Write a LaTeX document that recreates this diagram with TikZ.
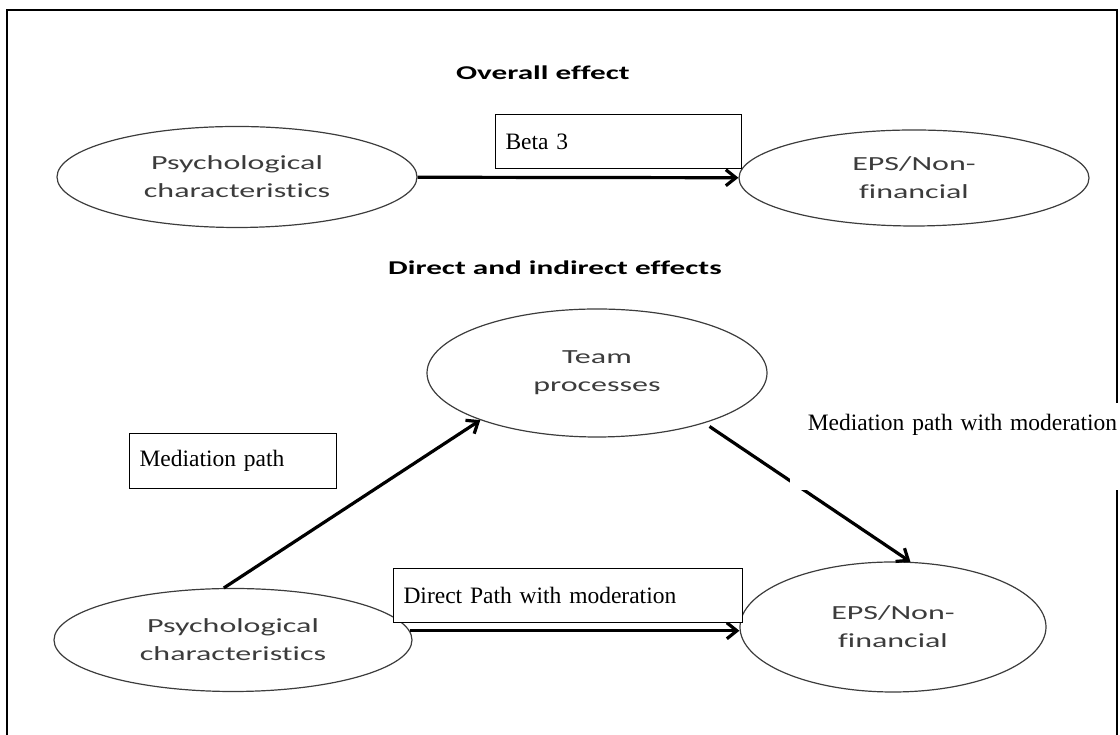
\documentclass[tikz,border=0pt]{standalone}
\usepackage{fontspec}
\setmainfont{Liberation Serif}
\newfontfamily\ellfont[FakeStretch=1.6, Ligatures=NoCommon]{Carlito}
\usepackage{tikz}
\usetikzlibrary{arrows.meta,positioning,shapes.geometric}
\definecolor{ellgray}{HTML}{3C3C3C}

\begin{document}
\begin{tikzpicture}[x=1pt, y=1pt,
  ell/.style={draw=ellgray, ellipse, line width=1.2pt, inner sep=0pt, align=center, text=ellgray, font=\ellfont\fontsize{20}{28}\selectfont},
  hdr/.style={font=\ellfont\bfseries\fontsize{19.5}{24}\selectfont},
  box/.style={draw, fill=white, line width=1pt, anchor=north west, align=left, inner xsep=10pt, font=\fontsize{23.5}{28}\selectfont},
  arr/.style={-{Straight Barb[length=10pt,width=16pt]}, line width=3.2pt}
]
\useasboundingbox (0,0) rectangle (1120,735);
\draw[line width=1.6pt] (7,0) -- (7,725) -- (1117,725) -- (1117,0);

% overall effect
\node[hdr] (ovr) at (543,662) {Overall effect};
\node[ell, minimum width=360pt, minimum height=101pt] (psy1) at (237,558) {Psychological\\characteristics};
\node[ell, minimum width=350pt, minimum height=96pt] (eps1) at (914,557) {EPS/Non-\\financial};
\draw[arr] (psy1) -- (eps1);
\node[box, minimum width=246pt, minimum height=54pt, text width=226pt] (beta) at (495,621) {Beta 3};

% direct and indirect effects
\node[hdr] (dir) at (555,467) {Direct and indirect effects};
\node[ell, minimum width=340pt, minimum height=128pt] (team) at (597,362) {Team\\processes};
\node[ell, minimum width=358pt, minimum height=103pt] (psy2) at (233,95) {Psychological\\characteristics};
\node[ell, minimum width=306pt, minimum height=130pt] (eps2) at (893,108) {EPS/Non-\\financial};
\draw[arr] (psy2.100) -- (team.202);
\draw[arr, shorten <=6pt] (team.335) -- (eps2.75);
\draw[arr] (psy2.3) -- (psy2.3 -| eps2.west);
\node[box, minimum width=207pt, minimum height=55pt, text width=187pt] (medbox) at (129,302) {Mediation path};
\node[box, minimum width=349pt, minimum height=54pt, text width=329pt] (dirbox) at (393,167) {Direct Path with moderation};
\node[fill=white, anchor=north west, inner xsep=2pt, inner ysep=7pt, text width=325pt, align=right,
  text height=20pt, text depth=53pt, font=\fontsize{23.5}{28}\selectfont] (mmod) at (790,332) {Mediation path with moderation};
\end{tikzpicture}
\end{document}
